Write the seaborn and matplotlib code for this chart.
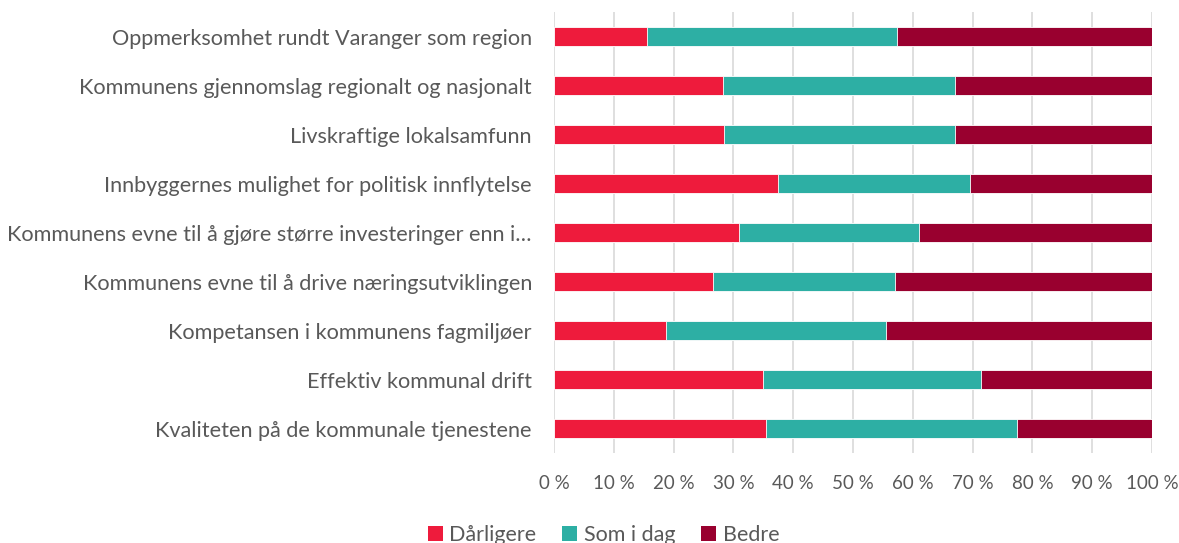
import matplotlib
matplotlib.use("Agg")
import matplotlib.pyplot as plt
import seaborn as sns
import pandas as pd
import numpy as np
from matplotlib.patches import Patch

categories = [
    "Oppmerksomhet rundt Varanger som region",
    "Kommunens gjennomslag regionalt og nasjonalt",
    "Livskraftige lokalsamfunn",
    "Innbyggernes mulighet for politisk innflytelse",
    "Kommunens evne til å gjøre større investeringer enn i…",
    "Kommunens evne til å drive næringsutviklingen",
    "Kompetansen i kommunens fagmiljøer",
    "Effektiv kommunal drift",
    "Kvaliteten på de kommunale tjenestene",
]
darligere = [15.5, 28.3, 28.5, 37.5, 30.9, 26.6, 18.7, 34.9, 35.4]
som_i_dag = [41.9, 38.7, 38.5, 32.1, 30.2, 30.5, 36.8, 36.5, 42.0]
bedre = [42.6, 33.0, 33.0, 30.4, 38.9, 42.9, 44.5, 28.6, 22.6]
series_names = ["Dårligere", "Som i dag", "Bedre"]
colors = ["#EE1B3C", "#2DAFA4", "#99002F"]
xticks = [0, 10, 20, 30, 40, 50, 60, 70, 80, 90, 100]

sns.set_theme(style="white")
plt.rcParams["font.family"] = ["Lato", "DejaVu Sans"]
text_color = "#595959"

df = pd.DataFrame({"cat": categories, "d": darligere, "s": som_i_dag, "b": bedre})
df["c1"] = df["d"]
df["c2"] = df["d"] + df["s"]
df["c3"] = df["d"] + df["s"] + df["b"]

fig = plt.figure(figsize=(11.79, 5.43), dpi=100)
ax = fig.add_axes([0.47, 0.1657, 0.507, 0.812])

for col, color in zip(["c3", "c2", "c1"], colors[::-1]):
    sns.barplot(data=df, x=col, y="cat", color=color, orient="h", width=0.40,
                ax=ax, saturation=1, edgecolor="white", linewidth=0.6, zorder=3)

ax.set_xlim(0, 100)
ax.set_ylim(8.5, -0.5)
ax.set_xticks(xticks)
ax.set_xticklabels([f"{t} %" for t in xticks], color=text_color, fontsize=13.5)
ax.tick_params(axis="y", labelsize=15.6, labelcolor=text_color, length=0, pad=16)
ax.tick_params(axis="x", length=0, pad=16)
ax.set_xlabel("")
ax.set_ylabel("")
ax.grid(axis="x", color="#D9D9D9", linewidth=1.2, zorder=0)
ax.set_axisbelow(True)
for s in ax.spines.values():
    s.set_visible(False)

handles = [Patch(facecolor=c, edgecolor="none") for c in colors]
fig.legend(handles, series_names, loc="lower center", ncol=3, frameon=False,
           bbox_to_anchor=(0.512, -0.04), fontsize=15.5, labelcolor=text_color,
           handlelength=0.7, handleheight=0.7, handletextpad=0.3, columnspacing=1.2)

fig.savefig("out.png", dpi=100)
